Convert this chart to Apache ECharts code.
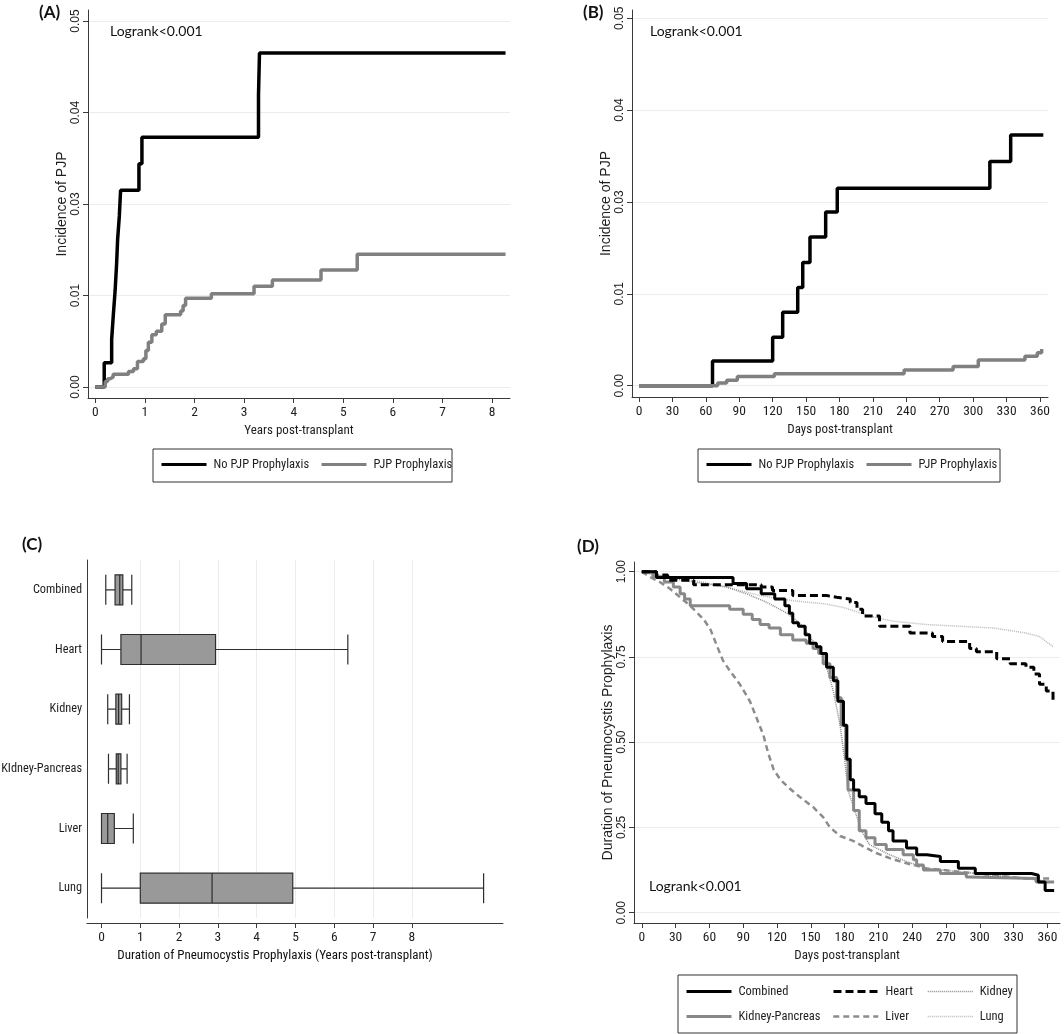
<!DOCTYPE html>
<html>
<head>
<meta charset="utf-8">
<script src="https://cdn.jsdelivr.net/npm/echarts@6/dist/echarts.min.js"></script>
<style>
  html, body { margin: 0; padding: 0; background: #fff; }
  #main { width: 1064px; height: 1034px; }
</style>
</head>
<body>
<div id="main"></div>
<script>
// ---- panel A: incidence of PJP by years post-transplant ----
const yearsNoProph = [0, 0.18, 0.33, 0.365, 0.40, 0.43, 0.45, 0.485, 0.51, 0.88, 0.94, 3.29, 3.31, 8.27];
const incNoProphA = [0, 0.00265, 0.0052, 0.008, 0.01055, 0.0135, 0.0161, 0.0187, 0.0215, 0.0244, 0.0273, 0.0319, 0.0365, 0.0365];
const yearsProph = [0, 0.20, 0.25, 0.30, 0.36, 0.67, 0.77, 0.85, 0.97, 1.02, 1.07, 1.14, 1.23, 1.34, 1.41, 1.72, 1.77, 1.82, 2.34, 3.20, 3.57, 4.55, 5.28, 8.27];
const incProphA = [0, 0.0006, 0.0009, 0.0011, 0.0014, 0.0017, 0.002, 0.0028, 0.0031, 0.004, 0.0049, 0.0057, 0.0061, 0.0069, 0.0079, 0.0083, 0.0089, 0.0097, 0.0102, 0.011, 0.0117, 0.0128, 0.0145, 0.0145];

// ---- panel B: first year, days post-transplant ----
const daysNoProph = [0, 66, 120, 129, 142.5, 147, 153.5, 167.6, 178, 315, 333.7, 363];
const incNoProphB = [0, 0.0027, 0.00527, 0.008, 0.0107, 0.0134, 0.0162, 0.0189, 0.0215, 0.0244, 0.0273, 0.0273];
const daysProph = [0, 70.6, 78.7, 88.3, 121.5, 238, 282, 304.6, 346.5, 357.6, 361.5];
const incProphB = [0, 0.0003, 0.0006, 0.001, 0.0013, 0.0017, 0.0021, 0.0028, 0.0032, 0.0036, 0.0040];

// the published y axis skips "0.02": equally spaced ticks labelled like this
const incTickValues = [0, 0.01, 0.02, 0.03, 0.04];
const incTickLabels = ['0.00', '0.01', '0.03', '0.04', '0.05'];

// ---- panel C: duration of prophylaxis boxplots (years) ----
const organs = ['Combined', 'Heart', 'Kidney', 'KIdney-Pancreas', 'Liver', 'Lung'];
// [lower whisker, Q1, median, Q3, upper whisker]
const durationBoxes = [
  [0.11, 0.35, 0.47, 0.55, 0.78],
  [0, 0.50, 1.02, 2.94, 6.35],
  [0.16, 0.37, 0.44, 0.52, 0.72],
  [0.18, 0.38, 0.43, 0.50, 0.66],
  [0, 0, 0.16, 0.33, 0.82],
  [0, 1.0, 2.85, 4.93, 9.85]
];

// ---- panel D: proportion still on prophylaxis by organ ----
const combinedDays = [0, 13, 81, 93, 106, 118, 127, 131, 134, 139, 145, 149, 155, 159, 164, 170, 174, 179, 182, 185, 188, 193, 199, 207, 213, 219, 223, 235, 244, 253, 265, 281, 296, 346, 352, 358, 366];
const combinedSurv = [1.0, 0.983, 0.965, 0.95, 0.935, 0.92, 0.90, 0.878, 0.85, 0.84, 0.815, 0.79, 0.78, 0.76, 0.72, 0.68, 0.62, 0.55, 0.45, 0.39, 0.36, 0.34, 0.32, 0.29, 0.265, 0.24, 0.21, 0.19, 0.17, 0.165, 0.15, 0.13, 0.115, 0.11, 0.09, 0.065, 0.065];
const heartDays = [0, 13, 23, 46, 106, 116, 134, 164, 173, 185, 191, 196, 211, 238, 258, 267, 291, 297, 315, 327, 341, 348, 353, 359, 365];
const heartSurv = [1.0, 0.99, 0.975, 0.962, 0.955, 0.945, 0.93, 0.925, 0.92, 0.91, 0.89, 0.87, 0.84, 0.82, 0.81, 0.795, 0.775, 0.765, 0.745, 0.73, 0.72, 0.70, 0.67, 0.65, 0.62];
const kidneyDays = [0, 16, 46, 75, 93, 111, 128, 140, 149, 158, 164, 170, 176, 180, 183, 189, 195, 202, 220, 235, 253, 282, 312, 341, 365];
const kidneySurv = [1.0, 0.985, 0.97, 0.955, 0.935, 0.91, 0.88, 0.85, 0.81, 0.77, 0.72, 0.65, 0.55, 0.45, 0.36, 0.30, 0.24, 0.20, 0.17, 0.15, 0.13, 0.12, 0.11, 0.10, 0.09];
const kpDays = [0, 10, 20, 28, 34, 38, 43, 78, 90, 98, 105, 113, 123, 134, 146, 152, 157, 161, 167, 173, 177, 181, 183, 188, 193, 199, 207, 217, 232, 241, 244, 250, 265, 288, 291, 350, 366];
const kpSurv = [1.0, 0.985, 0.97, 0.955, 0.935, 0.92, 0.90, 0.89, 0.875, 0.86, 0.845, 0.835, 0.815, 0.80, 0.79, 0.775, 0.76, 0.73, 0.69, 0.63, 0.55, 0.45, 0.36, 0.30, 0.24, 0.22, 0.20, 0.185, 0.17, 0.155, 0.14, 0.125, 0.115, 0.105, 0.10, 0.09, 0.09];
const liverDays = [0, 7, 16, 25, 34, 43, 49, 55, 61, 67, 72, 78, 87, 96, 102, 108, 112, 117, 123, 131, 140, 152, 161, 167, 176, 188, 199, 208, 220, 235, 253, 282, 312, 341, 365];
const liverSurv = [1.0, 0.985, 0.97, 0.95, 0.925, 0.90, 0.88, 0.86, 0.83, 0.78, 0.74, 0.71, 0.67, 0.62, 0.57, 0.52, 0.47, 0.42, 0.39, 0.365, 0.34, 0.31, 0.28, 0.25, 0.225, 0.21, 0.19, 0.175, 0.16, 0.145, 0.13, 0.12, 0.11, 0.10, 0.10];
const lungDays = [0, 16, 46, 75, 105, 134, 164, 179, 193, 208, 223, 253, 282, 312, 341, 353, 365];
const lungSurv = [1.0, 0.99, 0.975, 0.955, 0.93, 0.915, 0.905, 0.895, 0.88, 0.865, 0.855, 0.845, 0.84, 0.835, 0.82, 0.81, 0.78];

const survTickValues = [0, 0.25, 0.5, 0.75, 1];
const survTickLabels = ['0.00', '0.25', '0.50', '0.75', '1.00'];
const yearTicks = [0, 1, 2, 3, 4, 5, 6, 7, 8];
const dayTicks = [0, 30, 60, 90, 120, 150, 180, 210, 240, 270, 300, 330, 360];

const NARROW = "'Liberation Sans Narrow', 'Arial Narrow', 'Roboto Condensed', Roboto, sans-serif";
const ARIAL = "'Liberation Sans', Arial, sans-serif";
const CALIBRI = "Lato, 'Open Sans', sans-serif";
const AXIS_COLOR = '#3a3a3a';
const TEXT_COLOR = '#1e1e1e';
const GRID_COLOR = '#ececec';

const zip = (xs, ys) => xs.map((x, i) => [x, ys[i]]);

const chart = echarts.init(document.getElementById('main'));

function valueXAxis(gridIndex, min, max, ticks, name) {
  return {
    gridIndex, type: 'value', min, max,
    axisLine: { show: true, onZero: false, lineStyle: { color: AXIS_COLOR, width: 1 } },
    axisTick: { show: true, length: 5, customValues: ticks, lineStyle: { color: AXIS_COLOR } },
    axisLabel: { customValues: ticks, fontFamily: NARROW, fontSize: 13.5, color: TEXT_COLOR, margin: 8 },
    splitLine: { show: false },
    name, nameLocation: 'middle', nameGap: 26,
    nameTextStyle: { fontFamily: NARROW, fontSize: 13, color: TEXT_COLOR }
  };
}

function valueYAxis(gridIndex, min, max, ticks, labels, name, nameGap) {
  return {
    gridIndex, type: 'value', min, max,
    axisLine: { show: true, onZero: false, lineStyle: { color: AXIS_COLOR, width: 1 } },
    axisTick: { show: true, length: 5, customValues: ticks, lineStyle: { color: AXIS_COLOR } },
    axisLabel: {
      customValues: ticks, rotate: 90, margin: 6,
      fontFamily: ARIAL, fontSize: 12, color: TEXT_COLOR,
      formatter: (v) => labels[ticks.findIndex(t => Math.abs(t - v) < 1e-9)]
    },
    splitLine: { show: true, lineStyle: { color: GRID_COLOR, width: 1 } },
    name, nameLocation: 'middle', nameGap,
    nameTextStyle: { fontFamily: ARIAL, fontSize: 14, color: TEXT_COLOR }
  };
}

function line(name, xi, data, color, width, type, step) {
  return {
    name, type: 'line', xAxisIndex: xi, yAxisIndex: xi, data,
    step: step ? 'end' : false, symbol: 'none', showSymbol: false,
    lineStyle: { color, width, type }, itemStyle: { color },
    silent: true, z: 3
  };
}

function legendItem(name, left, top, lineWidth) {
  return {
    data: [name], left, top, padding: 0, itemGap: 0,
    itemWidth: 45, itemHeight: 14, selectedMode: false,
    lineStyle: { width: lineWidth },
    itemStyle: { opacity: 0, borderWidth: 0 },
    textStyle: { fontFamily: NARROW, fontSize: 12.5, color: TEXT_COLOR, padding: [0, 0, 0, 2] }
  };
}

function txt(text, x, y, font, size, weight, align) {
  return {
    type: 'text', x, y,
    style: { text, fontFamily: font, fontSize: size, fontWeight: weight || 'normal', fill: '#111', align: align || 'left', verticalAlign: 'middle' }
  };
}
function box(x, y, w, h) {
  return { type: 'rect', shape: { x, y, width: w, height: h }, style: { fill: 'none', stroke: '#333', lineWidth: 1 } };
}

const option = {
  animation: false,
  backgroundColor: '#fff',
  grid: [
    { left: 88, top: 10, width: 422, height: 388, outerBoundsMode: 'none' },
    { left: 632, top: 10, width: 416, height: 387, outerBoundsMode: 'none' },
    { left: 87, top: 560, width: 416, height: 358, outerBoundsMode: 'none' },
    { left: 634, top: 562, width: 426, height: 361, outerBoundsMode: 'none' }
  ],
  xAxis: [
    valueXAxis(0, -0.147, 8.36, yearTicks, 'Years post-transplant'),
    valueXAxis(1, -6.28, 367.2, dayTicks, 'Days post-transplant'),
    Object.assign(valueXAxis(2, -0.374, 10.35, yearTicks, ''), { offset: 5 }),
    valueXAxis(3, -6.92, 371.2, dayTicks, 'Days post-transplant'),
    // panel C vertical grid lines at 1..8 only
    {
      gridIndex: 2, type: 'value', min: -0.374, max: 10.35, position: 'bottom',
      axisLine: { show: false }, axisLabel: { show: false },
      axisTick: { show: false, customValues: [1, 2, 3, 4, 5, 6, 7, 8] },
      splitLine: { show: true, lineStyle: { color: GRID_COLOR, width: 1 } }
    }
  ],
  yAxis: [
    valueYAxis(0, -0.0012, 0.0412, incTickValues, incTickLabels, 'Incidence of PJP', 17),
    valueYAxis(1, -0.00123, 0.0409, incTickValues, incTickLabels, 'Incidence of PJP', 16),
    {
      gridIndex: 2, type: 'category', data: organs, inverse: true,
      axisLine: { show: true, onZero: false, lineStyle: { color: AXIS_COLOR, width: 1 } },
      axisTick: { show: false },
      axisLabel: { fontFamily: NARROW, fontSize: 12.3, color: TEXT_COLOR, margin: 5 },
      splitLine: { show: false }
    },
    valueYAxis(3, -0.0302, 1.0284, survTickValues, survTickLabels, 'Duration of Pneumocystis Prophylaxis', 16)
  ],
  legend: [
    legendItem('No PJP Prophylaxis', 160, 458, 3),
    legendItem('PJP Prophylaxis', 320, 458, 3),
    legendItem('No PJP Prophylaxis', 705, 458, 3),
    legendItem('PJP Prophylaxis', 865, 458, 3),
    legendItem('Combined', 685, 985, 3),
    legendItem('Kidney-Pancreas', 685, 1010, 3),
    legendItem('Heart', 832, 985, 3),
    legendItem('Liver', 832, 1010, 2.5),
    legendItem('Kidney', 927, 985, 1.5),
    legendItem('Lung', 927, 1010, 1.5)
  ],
  series: [
    line('No PJP Prophylaxis', 0, zip(yearsNoProph, incNoProphA), '#000', 3.5, 'solid', true),
    line('PJP Prophylaxis', 0, zip(yearsProph, incProphA), '#808080', 3.5, 'solid', true),
    line('No PJP Prophylaxis', 1, zip(daysNoProph, incNoProphB), '#000', 3.5, 'solid', true),
    line('PJP Prophylaxis', 1, zip(daysProph, incProphB), '#808080', 3.5, 'solid', true),
    {
      name: 'Duration', type: 'boxplot', xAxisIndex: 2, yAxisIndex: 2,
      data: durationBoxes, boxWidth: [30, 30], silent: true,
      itemStyle: { color: '#999999', borderColor: '#2e2e2e', borderWidth: 1.2 }
    },
    line('Lung', 3, zip(lungDays, lungSurv), '#b8b8b8', 1.5, [1, 1], false),
    line('Kidney', 3, zip(kidneyDays, kidneySurv), '#8a8a8a', 1.5, [1, 1], false),
    line('Liver', 3, zip(liverDays, liverSurv), '#8c8c8c', 2.5, [6, 4], false),
    line('Kidney-Pancreas', 3, zip(kpDays, kpSurv), '#888888', 3, 'solid', true),
    line('Heart', 3, zip(heartDays, heartSurv), '#000', 3, [8, 4], true),
    line('Combined', 3, zip(combinedDays, combinedSurv), '#000', 3, 'solid', true)
  ],
  graphic: [
    txt('(A)', 39, 13, CALIBRI, 17, 'bold'),
    txt('(B)', 583, 13, CALIBRI, 17, 'bold'),
    txt('(C)', 22, 545, CALIBRI, 17, 'bold'),
    txt('(D)', 577, 547, CALIBRI, 17, 'bold'),
    txt('Logrank<0.001', 110, 31, CALIBRI, 14),
    txt('Logrank<0.001', 650, 31, CALIBRI, 14),
    txt('Logrank<0.001', 649, 886, CALIBRI, 14),
    txt('Duration of Pneumocystis Prophylaxis (Years post-transplant)', 275, 956, NARROW, 13, 'normal', 'center'),
    box(153, 449, 299, 33),
    box(698, 449, 302, 33),
    box(678, 975, 339, 58)
  ]
};

chart.setOption(option);
</script>
</body>
</html>
